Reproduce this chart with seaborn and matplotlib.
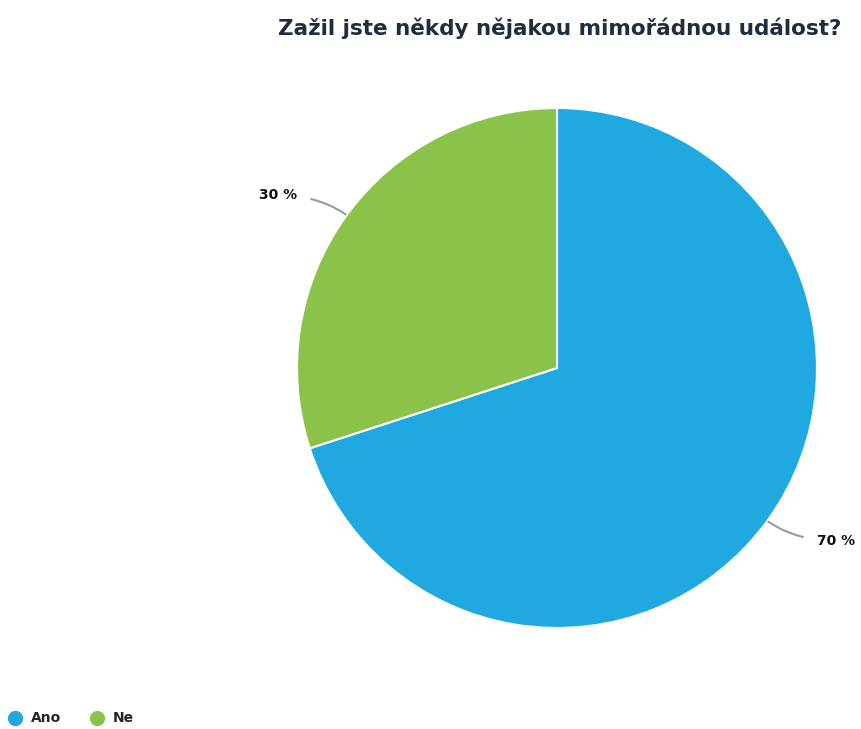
import matplotlib
matplotlib.use('Agg')
import matplotlib.pyplot as plt
from matplotlib.lines import Line2D
import numpy as np
import seaborn as sns

# Data -----------------------------------------------------------------------
labels = ['Ano', 'Ne']
values = [70, 30]
colors = ['#20a9e1', '#8bc34a']

sns.set_theme(style='white')
plt.rcParams['font.family'] = ['DejaVu Sans']

fig = plt.figure(figsize=(8.62, 7.29), dpi=100)
fig.patch.set_facecolor('white')

# pie area: centre (557, 368) px, radius 260 px
ax = fig.add_axes([297 / 862, (729 - 628) / 729, 520 / 862, 520 / 729])
wedges, _ = ax.pie(values, colors=colors, startangle=90, counterclock=False,
                   radius=1.0, wedgeprops=dict(edgecolor='white', linewidth=1.5))
ax.set_xlim(-1, 1)
ax.set_ylim(-1, 1)
ax.set_aspect('equal')
ax.axis('off')

# percentage labels with leader lines
angle = 90
for w, v in zip(wedges, values):
    span = v / sum(values) * 360
    mid = np.deg2rad(angle - span / 2)
    angle -= span
    x0, y0 = np.cos(mid), np.sin(mid)
    side = 1 if x0 > 0 else -1
    xt, yt = 1.0 * side, y0 * 1.13
    ax.annotate(f'{v} %', xy=(x0 * 1.005, y0 * 1.005), xytext=(xt, yt),
                ha='left' if side > 0 else 'right', va='center',
                fontsize=10, fontweight='bold', color='#111111',
                arrowprops=dict(arrowstyle='-', color='#999999', lw=1.5,
                                shrinkA=8, shrinkB=0,
                                connectionstyle='angle3,angleA=0,angleB=%d' % (np.rad2deg(mid))),
                annotation_clip=False)

fig.text(560 / 862, 1 - 28 / 729, 'Zažil jste někdy nějakou mimořádnou událost?',
         ha='center', va='center', fontsize=15.5, fontweight='bold', color='#1e2d3f')

handles = [Line2D([0], [0], marker='o', linestyle='', markersize=10,
                  markerfacecolor=c, markeredgecolor=c) for c in colors]
fig.legend(handles, labels, loc='lower left', bbox_to_anchor=(-11 / 862, -9 / 729), ncol=2,
           frameon=False, handletextpad=0.1, columnspacing=1.6,
           prop={'weight': 'bold', 'size': 10})

fig.savefig('out.png', dpi=100, facecolor='white')
